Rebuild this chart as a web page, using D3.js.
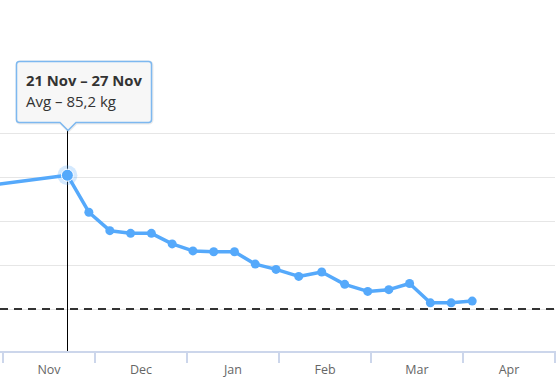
<!DOCTYPE html>
<html>
<head>
<meta charset="utf-8">
<script src="https://cdn.jsdelivr.net/npm/d3@7"></script>
<style>
  body { margin: 0; background: #fff; }
  svg { display: block; font-family: "Open Sans", "Noto Sans", sans-serif; }
</style>
</head>
<body>
<svg id="chart" width="560" height="385"></svg>
<script>
// weekly averages (week start dates), kg
const weekStarts = ["2022-10-03", "2022-11-21", "2022-11-28", "2022-12-05", "2022-12-12",
  "2022-12-19", "2022-12-26", "2023-01-02", "2023-01-09", "2023-01-16", "2023-01-23",
  "2023-01-30", "2023-02-06", "2023-02-13", "2023-02-20", "2023-02-27", "2023-03-06",
  "2023-03-13", "2023-03-20", "2023-03-27", "2023-04-03"]
const avgKg = [83.0, 85.2, 81.0, 78.9, 78.6, 78.6, 77.4, 76.6, 76.5, 76.5, 75.1,
  74.5, 73.7, 74.2, 72.8, 72.0, 72.2, 72.9, 70.7, 70.7, 70.9]

const months = ["2022-10", "2022-11", "2022-12", "2023-01", "2023-02", "2023-03", "2023-04"]
const monthLabels = ["Oct", "Nov", "Dec", "Jan", "Feb", "Mar", "Apr"]
const yTicks = [70, 75, 80, 85, 90]
const goalKg = 70
const activeWeek = "2022-11-21"

const color = "#55a9fb"
const parse = d3.timeParse("%Y-%m-%d")
const fmtDay = d3.timeFormat("%-d %b")
const fmtMonth = d3.timeFormat("%Y-%m")

let data = weekStarts.map((w, i) => ({ date: parse(w), key: w, kg: avgKg[i] }))

let svg = d3.select("#chart")

// each month gets the same width, days spread inside it
let x = d3.scaleBand()
  .domain(months)
  .range([-89, -89 + months.length * 92])
  .paddingInner(0)

function xPos(d) {
  let m = fmtMonth(d)
  let days = new Date(d.getFullYear(), d.getMonth() + 1, 0).getDate()
  let inner = d3.scaleLinear().domain([0, days]).range([0, x.bandwidth()])
  return x(m) + inner(d.getDate())
}

let y = d3.scaleLinear()
  .domain([65, 90])
  .range([353, 133])

let plot = svg.append("g")

// grid
plot.selectAll("line.grid")
  .data(yTicks)
  .join("line")
  .attr("class", "grid")
  .attr("x1", 0)
  .attr("x2", 555)
  .attr("y1", d => Math.round(y(d)) + 0.5)
  .attr("y2", d => Math.round(y(d)) + 0.5)
  .style("stroke", "#e6e6e6")
  .style("stroke-width", 1)

// x axis
let axisY = 352
plot.append("line")
  .attr("x1", 0)
  .attr("x2", 556)
  .attr("y1", axisY)
  .attr("y2", axisY)
  .style("stroke", "#ccd6eb")
  .style("stroke-width", 2)

let tickPos = months.map(m => x(m)).concat([x(months[months.length - 1]) + x.bandwidth()])
plot.selectAll("line.tick")
  .data(tickPos)
  .join("line")
  .attr("class", "tick")
  .attr("x1", d => d)
  .attr("x2", d => d)
  .attr("y1", axisY)
  .attr("y2", axisY + 11)
  .style("stroke", "#ccd6eb")
  .style("stroke-width", 2)

// only months whose label is inside the view
let shownMonths = months.filter(m => x(m) + x.bandwidth() / 2 > 0)
plot.selectAll("text.month")
  .data(shownMonths)
  .join("text")
  .attr("class", "month")
  .attr("x", d => x(d) + x.bandwidth() / 2)
  .attr("y", 374)
  .attr("text-anchor", "middle")
  .style("font-size", "12.5px")
  .style("fill", "#666666")
  .text(d => monthLabels[months.indexOf(d)])

// goal line
plot.append("line")
  .attr("x1", 0)
  .attr("x2", 555)
  .attr("y1", y(goalKg))
  .attr("y2", y(goalKg))
  .style("stroke", "#333333")
  .style("stroke-width", 2)
  .style("stroke-dasharray", "8,6")

// crosshair
let active = data.find(d => d.key === activeWeek)
let ax = xPos(active.date)
let ay = y(active.kg)

plot.append("line")
  .attr("x1", Math.round(ax) + 0.5)
  .attr("x2", Math.round(ax) + 0.5)
  .attr("y1", 129)
  .attr("y2", axisY - 1)
  .style("stroke", "#000")
  .style("stroke-width", 1)

// series
let line = d3.line()
  .x(d => xPos(d.date))
  .y(d => y(d.kg))

plot.append("path")
  .datum(data)
  .attr("d", line)
  .style("fill", "none")
  .style("stroke", color)
  .style("stroke-width", 3.5)
  .style("stroke-linejoin", "round")

plot.selectAll("circle.pt")
  .data(data.filter(d => d.key !== activeWeek))
  .join("circle")
  .attr("class", "pt")
  .attr("cx", d => xPos(d.date))
  .attr("cy", d => y(d.kg))
  .attr("r", 4.5)
  .style("fill", color)

// hovered point
plot.append("circle")
  .attr("cx", ax)
  .attr("cy", ay)
  .attr("r", 10)
  .style("fill", color)
  .style("opacity", 0.25)
plot.append("circle")
  .attr("cx", ax)
  .attr("cy", ay)
  .attr("r", 6)
  .style("fill", color)
  .style("stroke", "#fff")
  .style("stroke-width", 1)

// tooltip
let bx = Math.round(ax) - 51, by = 61, bw = 135, bh = 61, r = 3
let tipX = Math.round(ax) + 0.5
let p = d3.path()
p.moveTo(bx + r, by)
p.lineTo(bx + bw - r, by)
p.arcTo(bx + bw, by, bx + bw, by + r, r)
p.lineTo(bx + bw, by + bh - r)
p.arcTo(bx + bw, by + bh, bx + bw - r, by + bh, r)
p.lineTo(tipX + 8, by + bh)
p.lineTo(tipX, by + bh + 8)
p.lineTo(tipX - 8, by + bh)
p.lineTo(bx + r, by + bh)
p.arcTo(bx, by + bh, bx, by + bh - r, r)
p.lineTo(bx, by + r)
p.arcTo(bx, by, bx + r, by, r)
p.closePath()

let tip = svg.append("g")
tip.append("path")
  .attr("d", p.toString())
  .attr("transform", "translate(1,1)")
  .style("fill", "none")
  .style("stroke", "rgba(0,0,0,0.08)")
  .style("stroke-width", 3)
tip.append("path")
  .attr("d", p.toString())
  .attr("transform", "translate(0.5,0.5)")
  .style("fill", "#f7f7f7")
  .style("stroke", "#7db8f0")
  .style("stroke-width", 1.5)

let endDate = d3.timeDay.offset(active.date, 6)
let kgText = d3.format(".1f")(active.kg).replace(".", ",")

tip.append("text")
  .attr("x", bx + 10)
  .attr("y", by + 25)
  .style("font-size", "14.8px")
  .style("font-weight", "bold")
  .style("fill", "#333333")
  .text(fmtDay(active.date) + " – " + fmtDay(endDate))

tip.append("text")
  .attr("x", bx + 10)
  .attr("y", by + 46)
  .style("font-size", "15px")
  .style("fill", "#333333")
  .text("Avg – " + kgText + " kg")
</script>
</body>
</html>
